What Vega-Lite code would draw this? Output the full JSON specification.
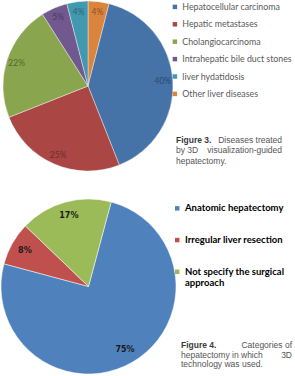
{
  "$schema": "https://vega.github.io/schema/vega-lite/v6.json",
  "padding": 0,
  "background": "white",
  "spacing": 24,
  "config": {"view": {"stroke": null}},
  "resolve": {"scale": {"color": "independent"}, "legend": {"color": "independent"}},
  "vconcat": [
    {
      "spacing": 0,
      "bounds": "flush",
      "resolve": {"scale": {"color": "independent"}, "legend": {"color": "independent"}},
      "hconcat": [
        {
          "width": 168,
          "height": 170,
          "data": {"values": [
            {"disease": "Other liver diseases", "share": 0.04, "rank": 1},
            {"disease": "Hepatocellular carcinoma", "share": 0.40, "rank": 2},
            {"disease": "Hepatic metastases", "share": 0.25, "rank": 3},
            {"disease": "Cholangiocarcinoma", "share": 0.22, "rank": 4},
            {"disease": "Intrahepatic bile duct stones", "share": 0.05, "rank": 5},
            {"disease": "liver hydatidosis", "share": 0.04, "rank": 6}
          ]},
          "encoding": {
            "theta": {"field": "share", "type": "quantitative", "stack": true},
            "order": {"field": "rank", "type": "quantitative"}
          },
          "resolve": {"scale": {"color": "independent"}},
          "layer": [
            {
              "mark": {"type": "arc", "outerRadius": 85, "stroke": "white", "strokeWidth": 0.4},
              "encoding": {
                "color": {
                  "field": "disease",
                  "type": "nominal",
                  "scale": {
                    "domain": ["Hepatocellular carcinoma", "Hepatic metastases", "Cholangiocarcinoma", "Intrahepatic bile duct stones", "liver hydatidosis", "Other liver diseases"],
                    "range": ["#4572A7", "#AA4643", "#89A54E", "#71588F", "#4198AF", "#DB843D"]
                  },
                  "legend": {
                    "orient": "none",
                    "legendX": 166.5,
                    "legendY": 1.5,
                    "title": null,
                    "padding": 0,
                    "symbolType": "square",
                    "symbolSize": 20,
                    "symbolStrokeWidth": 0,
                    "labelFont": "Lato",
                    "labelFontSize": 8.8,
                    "labelColor": "#595959",
                    "labelOffset": 3,
                    "labelLimit": 200,
                    "rowPadding": 7.4
                  }
                }
              }
            },
            {
              "mark": {"type": "text", "radius": 75, "font": "Lato", "fontSize": 8.5},
              "encoding": {
                "text": {"field": "share", "type": "quantitative", "format": ".0%"},
                "color": {
                  "field": "disease",
                  "type": "nominal",
                  "scale": {
                    "domain": ["Hepatocellular carcinoma", "Hepatic metastases", "Cholangiocarcinoma", "Intrahepatic bile duct stones", "liver hydatidosis", "Other liver diseases"],
                    "range": ["#2C4A70", "#6E2E2C", "#56692F", "#4A3A60", "#2B6676", "#8A4F22"]
                  },
                  "legend": null
                }
              }
            }
          ]
        },
        {
          "width": 127,
          "height": 170,
          "data": {"values": [
            {"line": 1, "part": "start", "text": "Figure 3."},
            {"line": 1, "part": "end", "text": "Diseases treated"},
            {"line": 2, "part": "start", "text": "by 3D"},
            {"line": 2, "part": "end", "text": "visualization-guided"},
            {"line": 3, "part": "start", "text": "hepatectomy."}
          ]},
          "encoding": {
            "x": {"field": "part", "type": "nominal", "scale": {"type": "point", "padding": 0, "domain": ["start", "end"], "range": [4, 110]}, "axis": null},
            "y": {"field": "line", "type": "ordinal", "scale": {"type": "point", "padding": 0, "domain": [1, 2, 3], "range": [138.5, 159.5]}, "axis": null},
            "text": {"field": "text"}
          },
          "layer": [
            {
              "transform": [{"filter": "datum.part == 'start' && datum.line == 1"}],
              "mark": {"type": "text", "align": "left", "baseline": "middle", "font": "Liberation Sans", "fontSize": 8.5, "fontWeight": "bold", "color": "#3a3a3a"}
            },
            {
              "transform": [{"filter": "datum.part == 'start' && datum.line != 1"}],
              "mark": {"type": "text", "align": "left", "baseline": "middle", "font": "Liberation Sans", "fontSize": 8.5, "color": "#555555"}
            },
            {
              "transform": [{"filter": "datum.part == 'end'"}],
              "mark": {"type": "text", "align": "right", "baseline": "middle", "font": "Liberation Sans", "fontSize": 8.5, "color": "#555555"}
            }
          ]
        }
      ]
    },
    {
      "spacing": 0,
      "bounds": "flush",
      "resolve": {"scale": {"color": "independent"}, "legend": {"color": "independent"}},
      "hconcat": [
        {
          "width": 169,
          "height": 181,
          "data": {"values": [
            {"method": "Anatomic hepatectomy", "share": 0.75, "rank": 1},
            {"method": "Irregular liver resection", "share": 0.08, "rank": 2},
            {"method": "Not specify the surgical approach", "share": 0.17, "rank": 3}
          ]},
          "encoding": {
            "theta": {"field": "share", "type": "quantitative", "stack": true, "scale": {"range": [0.2618, 6.5450]}},
            "order": {"field": "rank", "type": "quantitative"}
          },
          "layer": [
            {
              "mark": {"type": "arc", "outerRadius": 87.5, "stroke": "white", "strokeWidth": 0.5},
              "encoding": {
                "color": {
                  "field": "method",
                  "type": "nominal",
                  "scale": {
                    "domain": ["Anatomic hepatectomy", "Irregular liver resection", "Not specify the surgical approach"],
                    "range": ["#4F81BD", "#C0504D", "#9BBB59"]
                  },
                  "legend": {
                    "orient": "none",
                    "legendX": 168.5,
                    "legendY": 7.6,
                    "title": null,
                    "padding": 0,
                    "symbolType": "square",
                    "symbolSize": 20,
                    "symbolStrokeWidth": 0,
                    "labelFont": "Lato",
                    "labelFontSize": 9.5,
                    "labelFontWeight": "bold",
                    "labelColor": "#000000",
                    "labelOffset": 3,
                    "labelLimit": 300,
                    "rowPadding": 20.7,
                    "labelExpr": "datum.label == 'Not specify the surgical approach' ? ['Not specify the surgical', 'approach'] : datum.label"
                  }
                }
              }
            },
            {
              "mark": {"type": "text", "radius": 73, "font": "DejaVu Sans", "fontSize": 8, "fontWeight": "bold", "color": "#1a1a1a"},
              "encoding": {
                "text": {"field": "share", "type": "quantitative", "format": ".0%"}
              }
            }
          ]
        },
        {
          "width": 126,
          "height": 181,
          "data": {"values": [
            {"line": 1, "part": "start", "text": "Figure 4."},
            {"line": 1, "part": "end", "text": "Categories of"},
            {"line": 2, "part": "start", "text": "hepatectomy in which"},
            {"line": 2, "part": "end", "text": "3D"},
            {"line": 3, "part": "start", "text": "technology was used."}
          ]},
          "encoding": {
            "x": {"field": "part", "type": "nominal", "scale": {"type": "point", "padding": 0, "domain": ["start", "end"], "range": [8, 119]}, "axis": null},
            "y": {"field": "line", "type": "ordinal", "scale": {"type": "point", "padding": 0, "domain": [1, 2, 3], "range": [149.3, 168.3]}, "axis": null},
            "text": {"field": "text"}
          },
          "layer": [
            {
              "transform": [{"filter": "datum.part == 'start' && datum.line == 1"}],
              "mark": {"type": "text", "align": "left", "baseline": "middle", "font": "Liberation Sans", "fontSize": 8.5, "fontWeight": "bold", "color": "#3a3a3a"}
            },
            {
              "transform": [{"filter": "datum.part == 'start' && datum.line != 1"}],
              "mark": {"type": "text", "align": "left", "baseline": "middle", "font": "Liberation Sans", "fontSize": 8.5, "color": "#555555"}
            },
            {
              "transform": [{"filter": "datum.part == 'end'"}],
              "mark": {"type": "text", "align": "right", "baseline": "middle", "font": "Liberation Sans", "fontSize": 8.5, "color": "#555555"}
            }
          ]
        }
      ]
    }
  ]
}
